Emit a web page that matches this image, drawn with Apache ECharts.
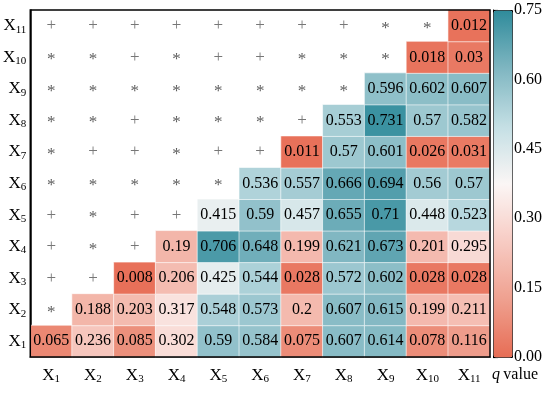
<!DOCTYPE html>
<html>
<head>
<meta charset="utf-8">
<script src="https://cdn.jsdelivr.net/npm/echarts@6/dist/echarts.min.js"></script>
<style>html,body{margin:0;padding:0;background:#fff;}#c{width:550px;height:393px;}</style>
</head>
<body>
<div id="c"></div>
<script>
const factors = ['X1','X2','X3','X4','X5','X6','X7','X8','X9','X10','X11'];
// q values per row (row = y factor, from X1 at bottom), null where a symbol is shown
const rowX1  = [0.065, 0.236, 0.085, 0.302, 0.59, 0.584, 0.075, 0.607, 0.614, 0.078, 0.116];
const rowX2  = [null, 0.188, 0.203, 0.317, 0.548, 0.573, 0.2, 0.607, 0.615, 0.199, 0.211];
const rowX3  = [null, null, 0.008, 0.206, 0.425, 0.544, 0.028, 0.572, 0.602, 0.028, 0.028];
const rowX4  = [null, null, null, 0.19, 0.706, 0.648, 0.199, 0.621, 0.673, 0.201, 0.295];
const rowX5  = [null, null, null, null, 0.415, 0.59, 0.457, 0.655, 0.71, 0.448, 0.523];
const rowX6  = [null, null, null, null, null, 0.536, 0.557, 0.666, 0.694, 0.56, 0.57];
const rowX7  = [null, null, null, null, null, null, 0.011, 0.57, 0.601, 0.026, 0.031];
const rowX8  = [null, null, null, null, null, null, null, 0.553, 0.731, 0.57, 0.582];
const rowX9  = [null, null, null, null, null, null, null, null, 0.596, 0.602, 0.607];
const rowX10 = [null, null, null, null, null, null, null, null, null, 0.018, 0.03];
const rowX11 = [null, null, null, null, null, null, null, null, null, null, 0.012];
// interaction type symbols in the upper-left part, per row
const symX2  = ['*'];
const symX3  = ['+','+'];
const symX4  = ['+','*','+'];
const symX5  = ['+','*','+','+'];
const symX6  = ['*','*','*','*','*'];
const symX7  = ['*','+','+','*','+','+'];
const symX8  = ['*','*','+','*','*','*','+'];
const symX9  = ['*','*','*','*','*','*','*','*'];
const symX10 = ['*','*','+','*','+','+','*','*','*'];
const symX11 = ['+','+','+','+','+','+','+','+','*','*'];

const rows = [rowX1,rowX2,rowX3,rowX4,rowX5,rowX6,rowX7,rowX8,rowX9,rowX10,rowX11];
const syms = [[],symX2,symX3,symX4,symX5,symX6,symX7,symX8,symX9,symX10,symX11];
const heat = [], marks = [];
rows.forEach((r, yi) => r.forEach((v, xi) => { if (v !== null) heat.push([xi, yi, v]); }));
syms.forEach((r, yi) => r.forEach((s, xi) => marks.push({value: [xi, yi], sym: s})));

const serif = '"Liberation Serif","Times New Roman",serif';
const lab = v => '{x|X}{s|' + v.slice(1) + '}';
const richX = {
  x: {fontFamily: serif, fontSize: 17, color: '#000'},
  s: {fontFamily: serif, fontSize: 11, color: '#000', verticalAlign: 'bottom', padding: [8, 0, 0, 0]}
};

const chart = echarts.init(document.getElementById('c'), null, {renderer: 'canvas'});
chart.setOption({
  animation: false,
  backgroundColor: '#fff',
  grid: [
    {left: 29, top: 10, width: 461, height: 347, show: true, borderColor: '#000', borderWidth: 1.5, backgroundColor: 'transparent', z: 5},
    {left: 493, top: 10, width: 19, height: 347, show: false}
  ],
  xAxis: [
    {type: 'category', data: factors, gridIndex: 0, axisLine: {show: true, lineStyle: {color: '#000', width: 1.5}}, axisTick: {show: false},
     axisLabel: {interval: 0, formatter: lab, rich: richX, margin: 9}, splitLine: {show: false}},
    {type: 'value', gridIndex: 1, show: false, min: 0, max: 1}
  ],
  yAxis: [
    {type: 'category', data: factors, gridIndex: 0, axisLine: {show: true, lineStyle: {color: '#000', width: 1.5}}, axisTick: {show: false},
     axisLabel: {interval: 0, formatter: lab, rich: richX, margin: 4}, splitLine: {show: false}},
    {type: 'value', gridIndex: 1, position: 'right', min: 0, max: 0.75, interval: 0.15,
     axisLine: {show: true, lineStyle: {color: '#000', width: 1}},
     axisTick: {show: true, inside: false, length: 5, lineStyle: {color: '#000', width: 1.2}},
     axisLabel: {fontFamily: serif, fontSize: 16, color: '#000', margin: 2, formatter: v => v.toFixed(2)},
     splitLine: {show: false}}
  ],
  visualMap: {
    type: 'continuous', min: 0, max: 0.75, seriesIndex: 0, calculable: false, show: true,
    orient: 'vertical', left: 493, top: 10, itemWidth: 19, itemHeight: 347, padding: 0,
    text: null, showLabel: false, hoverLink: false,
    borderColor: '#000', borderWidth: 1,
    inRange: {color: ['#e76d55', '#efa08f', '#f7cbc3', '#fbf6f5', '#c4dfe4', '#7fb6c1', '#2f8b9b']}
  },
  series: [
    {type: 'heatmap', xAxisIndex: 0, yAxisIndex: 0, data: heat,
     itemStyle: {borderColor: '#fff', borderWidth: 0.6},
     label: {show: true, fontFamily: serif, fontSize: 16, color: '#000', formatter: p => String(p.value[2])}},
    {type: 'scatter', xAxisIndex: 0, yAxisIndex: 0, data: marks, symbolSize: 0,
     label: {show: true, position: 'inside', fontFamily: serif, fontSize: 17,
       formatter: p => p.data.sym === '*' ? '{a|*}' : '{p|+}',
       rich: {a: {fontFamily: serif, fontSize: 17, color: '#333', padding: [5, 0, 0, 0]},
              p: {fontFamily: serif, fontSize: 17, color: '#555'}}}},
    {type: 'scatter', xAxisIndex: 1, yAxisIndex: 1, data: [], silent: true}
  ],
  graphic: [
    {type: 'text', left: 492, top: 367, style: {text: '{q|q} {v|value}', rich: {
      q: {fontFamily: serif, fontSize: 16, fontStyle: 'italic', fill: '#000'},
      v: {fontFamily: serif, fontSize: 16, fill: '#000'}}}}
  ]
});
</script>
</body>
</html>
